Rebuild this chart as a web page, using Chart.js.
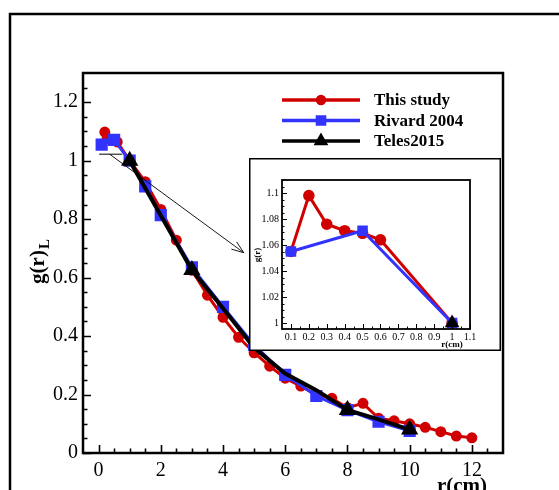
<!DOCTYPE html>
<html>
<head>
<meta charset="utf-8">
<script src="https://cdn.jsdelivr.net/npm/chart.js@4.4.0/dist/chart.umd.min.js"></script>
<style>
  body { margin: 0; background: #fff; }
  #wrap { position: relative; width: 559px; height: 490px; overflow: hidden; }
  #main { position: absolute; left: 0; top: 0; }
  #inset { position: absolute; left: 249px; top: 158px; }
</style>
</head>
<body>
<div id="wrap">
  <canvas id="main" width="559" height="490"></canvas>
  <canvas id="inset" width="252" height="193"></canvas>
</div>
<script>
// ---- data ----
const studyR  = [0.1, 0.2, 0.3, 0.4, 0.5, 0.6, 1, 1.5, 2, 2.5, 3, 3.5, 4, 4.5, 5, 5.5, 6, 6.5, 7, 7.5, 8, 8.5, 9, 9.5, 10, 10.5, 11, 11.5, 12];
const studyG  = [1.055, 1.098, 1.076, 1.071, 1.069, 1.064, 1.0, 0.928, 0.833, 0.728, 0.625, 0.54, 0.464, 0.396, 0.343, 0.297, 0.256, 0.229, 0.2, 0.187, 0.155, 0.17, 0.119, 0.11, 0.1, 0.088, 0.073, 0.058, 0.052];
const rivardR = [0.1, 0.5, 1, 1.5, 2, 3, 4, 5, 6, 7, 8, 9, 10];
const rivardG = [1.055, 1.071, 1.0, 0.912, 0.814, 0.635, 0.5, 0.37, 0.267, 0.195, 0.147, 0.107, 0.076];
const telesR  = [1, 3, 4, 5, 6, 7, 8, 9, 10];
const telesG  = [1.0, 0.626, 0.495, 0.36, 0.272, 0.215, 0.147, 0.115, 0.08];
const telesMarked = [1, 3, 8, 10];   // only these carry a triangle

// inset = zoom on r <= 1
const insetMaxR = 1;

const labels = ['This study', 'Rivard 2004', 'Teles2015'];
const colors = ['#d00000', '#3333ff', '#000000'];

const mainXTicks = [0, 2, 4, 6, 8, 10, 12];
const mainYTicks = [0, 0.2, 0.4, 0.6, 0.8, 1, 1.2];
const insetXTicks = [0.1, 0.2, 0.3, 0.4, 0.5, 0.6, 0.7, 0.8, 0.9, 1, 1.1];
const insetYTicks = [1, 1.02, 1.04, 1.06, 1.08, 1.1];

const SERIF = '"Liberation Serif", "DejaVu Serif", serif';
const plain = v => String(+v.toFixed(3));

function pts(xs, ys, maxX){
  const out = [];
  xs.forEach((x, i) => { if (maxX === undefined || x <= maxX + 1e-9) out.push({x: x, y: ys[i]}); });
  return out;
}

// marker radii: [circle, square, triangle]
function makeSets(maxX, rad, blackW){
  const teles = pts(telesR, telesG, maxX);
  return [
    { label: labels[0], data: pts(studyR, studyG, maxX), borderColor: colors[0], backgroundColor: colors[0],
      borderWidth: 3, pointRadius: rad[0], pointStyle: 'circle', order: 2 },
    { label: labels[1], data: pts(rivardR, rivardG, maxX), borderColor: colors[1], backgroundColor: colors[1],
      borderWidth: 3, pointRadius: rad[1], pointStyle: 'rect', order: 1 },
    { label: labels[2], data: teles, borderColor: colors[2], backgroundColor: colors[2],
      borderWidth: blackW, pointStyle: 'triangle', order: 0,
      pointRadius: teles.map(p => telesMarked.includes(p.x) ? rad[2] : 0) }
  ];
}

// inward ticks + closed frame round the plot area
const boxTicks = {
  id: 'boxTicks',
  afterDraw(chart, args, o){
    const {ctx, chartArea: a, scales: {x, y}} = chart;
    ctx.save();
    ctx.strokeStyle = '#000';
    ctx.lineWidth = o.tickWidth;
    ctx.beginPath();
    for (let v = o.xFrom; v <= o.xTo + 1e-9; v += o.xMinor){
      const r = v / o.xMajor;
      const len = Math.abs(r - Math.round(r)) < 1e-6 ? o.major : o.minor;
      const px = Math.round(x.getPixelForValue(v)) + 0.5;
      ctx.moveTo(px, a.bottom); ctx.lineTo(px, a.bottom - len);
    }
    for (let v = o.yFrom; v <= o.yTo + 1e-9; v += o.yMinor){
      const r = (v - o.yFrom) / o.yMajor;
      const len = Math.abs(r - Math.round(r)) < 1e-6 ? o.major : o.minor;
      const py = Math.round(y.getPixelForValue(v)) + 0.5;
      ctx.moveTo(a.left, py); ctx.lineTo(a.left + len, py);
    }
    ctx.stroke();
    ctx.lineWidth = o.boxWidth;
    ctx.strokeRect(a.left, a.top, a.right - a.left, a.bottom - a.top);
    ctx.restore();
  }
};

// ---- main chart decorations: outer frame, legend, axis titles, arrow ----
const mainDeco = {
  id: 'mainDeco',
  beforeDraw(chart){
    const ctx = chart.ctx;
    ctx.save();
    ctx.fillStyle = '#fff';
    ctx.fillRect(0, 0, chart.width, chart.height);
    ctx.strokeStyle = '#000';
    ctx.lineWidth = 2.5;
    ctx.strokeRect(10, 14, 600, 600);
    ctx.restore();
  },
  afterDatasetsDraw(chart){
    const {ctx, scales: {x, y}} = chart;
    ctx.save();
    // zoom marker: short bar and arrow to the inset
    const y0 = y.getPixelForValue(1.022);
    ctx.strokeStyle = '#555';
    ctx.lineWidth = 1.5;
    ctx.beginPath();
    ctx.moveTo(x.getPixelForValue(0.02), y0);
    ctx.lineTo(x.getPixelForValue(0.76), y0);
    ctx.stroke();
    const x1 = x.getPixelForValue(0.36), x2 = x.getPixelForValue(4.67), y2 = y.getPixelForValue(0.685);
    ctx.strokeStyle = '#000';
    ctx.lineWidth = 0.9;
    ctx.beginPath();
    ctx.moveTo(x1, y0); ctx.lineTo(x2, y2);
    const ang = Math.atan2(y2 - y0, x2 - x1);
    [0.35, -0.35].forEach(d => {
      ctx.moveTo(x2, y2);
      ctx.lineTo(x2 - 13 * Math.cos(ang + d), y2 - 13 * Math.sin(ang + d));
    });
    ctx.stroke();

    // legend
    chart.data.datasets.forEach((ds, i) => {
      const ly = 100 + i * 20.5;
      ctx.strokeStyle = ds.borderColor;
      ctx.fillStyle = ds.borderColor;
      ctx.lineWidth = 3.5;
      ctx.beginPath(); ctx.moveTo(282, ly); ctx.lineTo(360, ly); ctx.stroke();
      Chart.helpers.drawPoint(ctx, {pointStyle: ds.pointStyle, radius: i === 0 ? 3.5 : 5, rotation: 0, borderWidth: 1}, 321, ly);
      ctx.fillStyle = '#000';
      ctx.font = 'bold 17px ' + SERIF;
      ctx.textBaseline = 'middle';
      ctx.textAlign = 'left';
      ctx.fillText(ds.label, 374, ly + 1);
    });

    // axis titles
    ctx.fillStyle = '#000';
    ctx.font = 'bold 21px ' + SERIF;
    ctx.textBaseline = 'top';
    ctx.textAlign = 'center';
    ctx.fillText('r(cm)', 462, 476);

    ctx.translate(44, 262);
    ctx.rotate(-Math.PI / 2);
    ctx.textAlign = 'left';
    ctx.textBaseline = 'alphabetic';
    const main = 'g(r)';
    const w = ctx.measureText(main).width;
    ctx.font = 'bold 15px ' + SERIF;
    const ws = ctx.measureText('L').width;
    ctx.font = 'bold 21px ' + SERIF;
    const sx = -(w + ws) / 2;
    ctx.fillText(main, sx, 0);
    ctx.font = 'bold 15px ' + SERIF;
    ctx.fillText('L', sx + w + 1, 5);
    ctx.restore();
  }
};

new Chart(document.getElementById('main'), {
  type: 'line',
  data: { datasets: makeSets(undefined, [4, 6.5, 6], 4) },
  options: {
    responsive: false,
    animation: false,
    layout: { padding: { left: 0, top: 73, right: 56, bottom: 0 } },
    plugins: {
      legend: { display: false },
      tooltip: { enabled: false },
      boxTicks: { xFrom: 0, xTo: 12.5, xMinor: 0.5, xMajor: 2,
                  yFrom: 0, yTo: 1.25, yMinor: 0.05, yMajor: 0.2,
                  major: 8, minor: 4.5, tickWidth: 1.6, boxWidth: 2.5 }
    },
    scales: {
      x: {
        type: 'linear', min: -0.5, max: 13,
        grid: { display: false, drawTicks: false }, border: { display: false },
        afterBuildTicks: s => { s.ticks = mainXTicks.map(v => ({value: v})); },
        afterFit: s => { s.height = 37; },
        ticks: { padding: 6, color: '#000', font: { family: SERIF, size: 20 }, maxRotation: 0, callback: plain }
      },
      y: {
        type: 'linear', min: 0, max: 1.3,
        grid: { display: false, drawTicks: false }, border: { display: false },
        afterBuildTicks: s => { s.ticks = mainYTicks.map(v => ({value: v})); },
        afterFit: s => { s.width = 83; },
        ticks: { padding: 5, color: '#000', font: { family: SERIF, size: 20 }, callback: plain }
      }
    }
  },
  plugins: [mainDeco, boxTicks]
});

// ---- inset ----
const insetDeco = {
  id: 'insetDeco',
  beforeDraw(chart){
    const ctx = chart.ctx;
    ctx.save();
    ctx.fillStyle = '#fff';
    ctx.fillRect(0, 0, chart.width, chart.height);
    ctx.strokeStyle = '#000';
    ctx.lineWidth = 1.5;
    ctx.strokeRect(0.75, 0.75, chart.width - 1.5, chart.height - 1.5);
    ctx.restore();
  },
  afterDraw(chart){
    const ctx = chart.ctx;
    ctx.save();
    ctx.fillStyle = '#000';
    ctx.font = 'bold 9px ' + SERIF;
    ctx.textAlign = 'center';
    ctx.textBaseline = 'middle';
    ctx.fillText('r(cm)', 203, 187);
    ctx.translate(9, 97);
    ctx.rotate(-Math.PI / 2);
    ctx.fillText('g(r)', 0, 0);
    ctx.restore();
  }
};

new Chart(document.getElementById('inset'), {
  type: 'line',
  data: { datasets: makeSets(insetMaxR, [4.3, 5.3, 5.5], 3) },
  options: {
    responsive: false,
    animation: false,
    layout: { padding: { left: 0, top: 22, right: 31, bottom: 0 } },
    plugins: {
      legend: { display: false },
      tooltip: { enabled: false },
      boxTicks: { xFrom: 0.1, xTo: 1.1, xMinor: 0.05, xMajor: 0.1,
                  yFrom: 1, yTo: 1.11, yMinor: 0.005, yMajor: 0.02,
                  major: 5, minor: 2.5, tickWidth: 1, boxWidth: 1.8 }
    },
    scales: {
      x: {
        type: 'linear', min: 0.05, max: 1.1,
        grid: { display: false, drawTicks: false }, border: { display: false },
        afterBuildTicks: s => { s.ticks = insetXTicks.map(v => ({value: v})); },
        afterFit: s => { s.height = 22; },
        ticks: { padding: 2, color: '#000', font: { family: SERIF, size: 10 }, maxRotation: 0, autoSkip: false, callback: plain }
      },
      y: {
        type: 'linear', min: 0.9954, max: 1.11,
        grid: { display: false, drawTicks: false }, border: { display: false },
        afterBuildTicks: s => { s.ticks = insetYTicks.map(v => ({value: v})); },
        afterFit: s => { s.width = 33; },
        ticks: { padding: 3, color: '#000', font: { family: SERIF, size: 10 }, callback: plain }
      }
    }
  },
  plugins: [insetDeco, boxTicks]
});
</script>
</body>
</html>
